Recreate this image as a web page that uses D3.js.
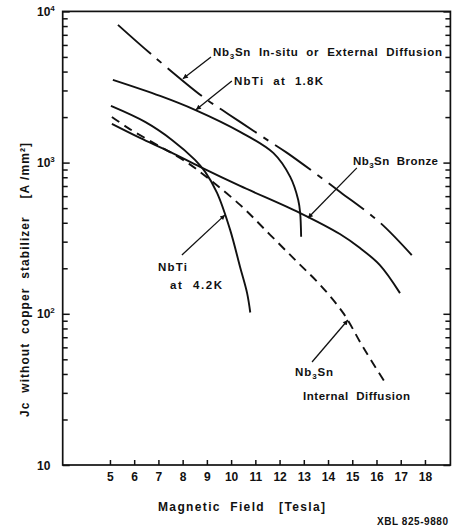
<!DOCTYPE html>
<html><head><meta charset="utf-8">
<script src="https://cdn.jsdelivr.net/npm/d3@7"></script>
<style>
html,body{margin:0;padding:0;background:#fff;}
svg{display:block;font-family:"Liberation Sans",Arial,sans-serif;font-weight:bold;}
</style></head><body>
<svg id="chart" width="458" height="529"></svg>
<script>
// ---- data ----
const xTicks = [5,6,7,8,9,10,11,12,13,14,15,16,17,18];
const yDecades = [10,100,1000,10000];
const yDecadeSup = ["","2","3","4"];
const yMinorMultipliers = [2,3,4,5,6,7,8,9];

const insituField = [5.33, 6.74, 8.84, 9.62, 10.37, 11.49, 12.31, 14.50, 16.16, 17.52];
const insituJc    = [8150, 5150, 2720, 2234, 1860, 1413, 1160, 640, 399, 238];

const nbti18Field = [5.12, 7.07, 8.51, 10.37, 11.74, 12.44, 12.77, 12.85, 12.89];
const nbti18Jc    = [3525, 2760, 2233, 1597, 1159, 804, 566, 464, 323];

const nbti42Field = [5.04, 6.45, 7.56, 8.51, 8.93, 9.42, 9.96, 10.37, 10.66, 10.79];
const nbti42Jc    = [2371, 1858, 1413, 1042, 868, 631, 359, 204, 137, 102];

const bronzeField = [5.08, 6.24, 7.48, 8.72, 10.37, 12.85, 14.49, 15.32, 16.14, 16.97];
const bronzeJc    = [1803, 1456, 1178, 937, 701, 464, 337, 272, 210, 137];

const internalField = [5.08, 5.74, 6.65, 8.02, 8.72, 10.37, 11.61, 12.73, 13.68, 14.63, 15.45, 16.36];
const internalJc    = [2005, 1698, 1392, 1042, 867, 525, 333, 220, 155, 101, 60, 35];

// annotation labels (segments: [text, "sub"|""])
const labelSegments = [
  [["Nb",""],["3","sub"],["Sn  In-situ  or  External  Diffusion",""]],
  [["NbTi  at  1.8K",""]],
  [["Nb",""],["3","sub"],["Sn  Bronze",""]],
  [["NbTi",""]],
  [["at  4.2K",""]],
  [["Nb",""],["3","sub"],["Sn",""]],
  [["Internal  Diffusion",""]]
];
const labelField = [9.25, 10.12, 15.03, 6.98, 7.48, 12.64, 12.97];
const labelJc    = [5080, 3265, 966, 192, 146, 38.9, 27];
const labelLen   = [229, 89, 85, 29, 52, 38, 107];

// leader lines: from label to curve
const leaderFromField = [9.17, 10.03, 15.19, 7.97, 13.34];
const leaderFromJc    = [5000, 3470, 923, 245, 48];
const leaderToField   = [8.01, 8.55, 13.17, 9.75, 14.82];
const leaderToJc      = [3580, 2234, 430, 451, 91];

const xTitle = "Magnetic  Field   [Tesla]";
const yTitle = "Jc  without  copper  stabilizer    [A /mm²]";
const figCode = "XBL 825-9880";

// ---- drawing ----
const svg = d3.select("#chart");
svg.append("rect").attr("width",458).attr("height",529).attr("fill","#fff");

const x = d3.scaleLinear().domain([3.05, 19.05]).range([62.7, 450.4]);
const y = d3.scaleLog().domain([10, 10000]).range([465, 11.4]);

const defs = svg.append("defs");
defs.append("marker").attr("id","arr").attr("viewBox","0 0 10 10")
  .attr("refX",10).attr("refY",5).attr("markerWidth",8).attr("markerHeight",5)
  .attr("markerUnits","userSpaceOnUse").attr("orient","auto")
  .append("path").attr("d","M0,0L10,5L0,10z").attr("fill","#111");

const ink = "#111";

const yTickVals = [];
yDecades.forEach((d,i)=>{ yTickVals.push(d); if(i<yDecades.length-1) yMinorMultipliers.forEach(m=>yTickVals.push(d*m)); });

// frame
svg.append("rect")
  .attr("x", x(3.05)).attr("y", y(10000))
  .attr("width", x(19.05)-x(3.05)).attr("height", y(10)-y(10000))
  .attr("fill","none").attr("stroke",ink).attr("stroke-width",1.7);

// bottom axis
const gx = svg.append("g").attr("transform",`translate(0,${y(10)})`)
  .call(d3.axisBottom(x).tickValues(xTicks).tickSize(-5).tickSizeOuter(0).tickPadding(7).tickFormat(d3.format("d")));
gx.select(".domain").remove();
gx.selectAll(".tick line").attr("stroke",ink).attr("stroke-width",1.5);
gx.selectAll(".tick text").attr("fill",ink).attr("font-size",12).attr("font-family","Liberation Sans, Arial, sans-serif").attr("font-weight","bold");

// left axis
const gy = svg.append("g").attr("transform",`translate(${x(3.05)},0)`)
  .call(d3.axisLeft(y).tickValues(yTickVals).tickSize(-5).tickSizeOuter(0).tickFormat(""));
gy.select(".domain").remove();
gy.selectAll(".tick line").attr("stroke",ink).attr("stroke-width",1.5)
  .attr("x2", d => yDecades.includes(d) ? 7 : 5);

// right axis
const gr = svg.append("g").attr("transform",`translate(${x(19.05)},0)`)
  .call(d3.axisRight(y).tickValues(yTickVals).tickSize(-5).tickSizeOuter(0).tickFormat(""));
gr.select(".domain").remove();
gr.selectAll(".tick line").attr("stroke",ink).attr("stroke-width",1.5)
  .attr("x2", d => yDecades.includes(d) ? -7 : -5);

// y tick labels
yDecades.forEach((d,i)=>{
  const t = svg.append("text").attr("x", 37).attr("y", y(d)+4.5)
    .attr("font-size",12).attr("fill",ink);
  t.append("tspan").text("10");
  if (yDecadeSup[i]) t.append("tspan").attr("dy",-5).attr("font-size",8).text(yDecadeSup[i]);
});

// curves
const line = d3.line().x(d=>x(d[0])).y(d=>y(d[1])).curve(d3.curveCatmullRom.alpha(0.5));
const series = [
  {f: insituField, j: insituJc, dash: "44,8,6,8"},
  {f: nbti18Field, j: nbti18Jc, dash: null},
  {f: nbti42Field, j: nbti42Jc, dash: null},
  {f: bronzeField, j: bronzeJc, dash: null},
  {f: internalField, j: internalJc, dash: "9,6"}
];
series.forEach(s=>{
  svg.append("path").datum(d3.zip(s.f, s.j)).attr("d", line)
    .attr("fill","none").attr("stroke",ink).attr("stroke-width",1.9)
    .attr("stroke-dasharray", s.dash).attr("stroke-linecap","butt");
});

// leader lines
leaderFromField.forEach((f,i)=>{
  svg.append("line").attr("x1",x(f)).attr("y1",y(leaderFromJc[i]))
    .attr("x2",x(leaderToField[i])).attr("y2",y(leaderToJc[i]))
    .attr("stroke",ink).attr("stroke-width",1.3).attr("marker-end","url(#arr)");
});

// annotation labels
labelSegments.forEach((segs,i)=>{
  const t = svg.append("text").attr("x", x(labelField[i])).attr("y", y(labelJc[i]))
    .attr("font-size",11.5).attr("fill",ink)
    .style("white-space","pre")
    .attr("textLength", labelLen[i]).attr("lengthAdjust","spacing");
  segs.forEach(([txt,kind],k)=>{
    const sp = t.append("tspan").text(txt);
    if (kind==="sub") sp.attr("dy",3).attr("font-size",8);
    else if (k>0 && segs[k-1][1]==="sub") sp.attr("dy",-3);
  });
});

// axis titles
svg.append("text").attr("x",158).attr("y",511).attr("font-size",12).attr("fill",ink)
  .style("white-space","pre").attr("textLength",167).attr("lengthAdjust","spacing").text(xTitle);
svg.append("text").attr("transform","translate(29,280) rotate(-90)").attr("text-anchor","middle")
  .attr("font-size",12).attr("fill",ink).style("white-space","pre")
  .attr("textLength",274).attr("lengthAdjust","spacing").text(yTitle);
svg.append("text").attr("x",377).attr("y",525).attr("font-size",10).attr("fill",ink)
  .attr("textLength",71).attr("lengthAdjust","spacing").text(figCode);
</script>
</body></html>
